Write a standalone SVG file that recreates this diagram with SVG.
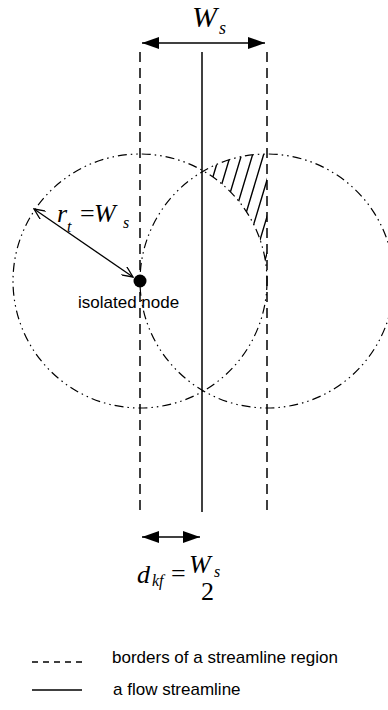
<svg xmlns="http://www.w3.org/2000/svg" width="388" height="710" viewBox="0 0 388 710">
<style>
.math{font-family:"Liberation Serif","Times New Roman",serif;font-style:italic;fill:#000}
.mathn{font-family:"Liberation Serif","Times New Roman",serif;fill:#000}
.lbl{font-family:"Liberation Sans",Arial,sans-serif;font-size:17px;fill:#000}
.dash{stroke:#000;stroke-width:1.5;stroke-dasharray:10 6;fill:none}
.solid{stroke:#000;stroke-width:1.5;fill:none}
.circ{stroke:#000;stroke-width:1.2;fill:none;stroke-dasharray:9 4 1.5 4 1.5 4}
.hatch{stroke:#000;stroke-width:1.4}
</style>
<defs>
<marker id="fa" viewBox="0 0 17 12" refX="17" refY="6" markerWidth="17" markerHeight="12" markerUnits="userSpaceOnUse" orient="auto-start-reverse">
<path d="M0,0 L17,6 L0,12 Z" fill="#000"/>
</marker>
<marker id="oa" viewBox="0 0 12 10" refX="11" refY="5" markerWidth="12" markerHeight="10" markerUnits="userSpaceOnUse" orient="auto-start-reverse">
<path d="M0,0 L11,5 L0,10" fill="none" stroke="#000" stroke-width="1.3"/>
</marker>
<clipPath id="hclip">
<path d="M203.5,171 A127,127 0 0,1 267,154 L267,281 A127,127 0 0,0 203.5,171 Z"/>
</clipPath>
</defs>

<g id="hatching" clip-path="url(#hclip)">
<path class="hatch" d="M168,290 L213,140 M179,290 L224,140 M190,290 L235,140 M201,290 L246,140 M212,290 L257,140 M223,290 L268,140 M234,290 L279,140 M245,290 L290,140 M256,290 L301,140"/>
</g>

<g id="circle-left"><circle class="circ" cx="140" cy="281" r="127"/></g>
<g id="circle-right"><circle class="circ" cx="267" cy="281" r="127"/></g>

<g id="border-left"><line class="dash" x1="140" y1="52" x2="140" y2="513"/></g>
<g id="border-right"><line class="dash" x1="267" y1="52" x2="267" y2="513"/></g>
<g id="streamline"><line class="solid" x1="202" y1="52" x2="202" y2="512"/></g>

<g id="connectors">
<line x1="142" y1="43" x2="265" y2="43" stroke="#000" stroke-width="1.5" marker-start="url(#fa)" marker-end="url(#fa)"/>
<line x1="142" y1="537" x2="200" y2="537" stroke="#000" stroke-width="1.5" marker-start="url(#fa)" marker-end="url(#fa)"/>
<line x1="34" y1="209" x2="133" y2="277" stroke="#000" stroke-width="1.3" marker-start="url(#oa)" marker-end="url(#oa)"/>
</g>

<g id="label-ws">
<text class="math" x="192" y="27" font-size="30">W</text>
<text class="math" x="219" y="34" font-size="18">s</text>
</g>

<g id="label-rt">
<text class="math" x="57" y="222" font-size="26">r</text>
<text class="math" x="67" y="232" font-size="16">t</text>
<text class="mathn" x="80" y="222" font-size="26">=</text>
<text class="math" x="94" y="222" font-size="26">W</text>
<text class="math" x="123" y="228" font-size="16">s</text>
</g>

<g id="node">
<circle cx="140" cy="281" r="6.5" fill="#000"/>
<text class="lbl" x="78" y="308">isolated node</text>
</g>

<g id="label-dkf">
<text class="math" x="137" y="583" font-size="26">d</text>
<text class="math" x="152" y="586" font-size="16">kf</text>
<text class="mathn" x="171" y="582" font-size="26">=</text>
<text class="math" x="189" y="573" font-size="26">W</text>
<text class="math" x="214" y="577" font-size="16">s</text>
<text class="mathn" x="201" y="600" font-size="26">2</text>
</g>

<g id="legend">
<line x1="32" y1="662" x2="86" y2="662" stroke="#000" stroke-width="1.3" stroke-dasharray="6 5"/>
<text class="lbl" x="112" y="663">borders of a streamline region</text>
<line x1="32" y1="690" x2="82" y2="690" stroke="#000" stroke-width="1.3"/>
<text class="lbl" x="113" y="695">a flow streamline</text>
</g>
</svg>
